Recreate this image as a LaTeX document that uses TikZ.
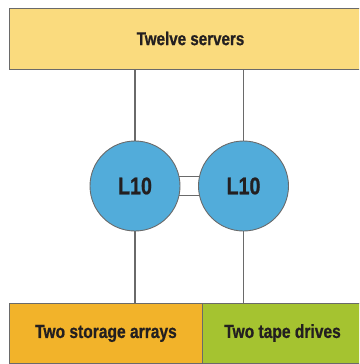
\documentclass[tikz,border=0pt]{standalone}
\usepackage{fontspec}
\setmainfont{Liberation Sans}[FakeStretch=0.82, BoldFeatures={FakeBold=0.8}]
\definecolor{srvfill}{HTML}{FADB7E}
\definecolor{stofill}{HTML}{F2B32A}
\definecolor{tapefill}{HTML}{A5C330}
\definecolor{l10fill}{HTML}{52ACDA}
\definecolor{edge}{HTML}{6A6A6A}
\definecolor{txt}{HTML}{231F20}
\tikzset{
  boxnode/.style={draw=edge, line width=0.9pt, inner sep=0pt, anchor=north west, text=txt},
  l10node/.style={circle, draw=edge, line width=0.9pt, fill=l10fill, minimum size=90pt, inner sep=0pt, text=txt, font=\fontsize{24}{24}\selectfont\bfseries},
  link/.style={draw=edge, line width=1.2pt}
}
\begin{document}
\begin{tikzpicture}[x=1pt,y=-1pt]
\useasboundingbox (0,0) rectangle (359,364);
\clip (0,0) rectangle (359,364);
\node[boxnode, fill=srvfill, minimum width=355pt, minimum height=61pt] (srv) at (9,8) {};
\node[text=txt, font=\fontsize{18.5}{20}\selectfont\bfseries] (srvlabel) at (190.5,38.5) {Twelve servers};
\node[l10node] (c1) at (135,186) {L10};
\node[l10node] (c2) at (243.5,186) {L10};
\node[boxnode, fill=stofill, minimum width=193pt, minimum height=60pt, font=\fontsize{19}{20}\selectfont\bfseries] (sto) at (9,303) {Two storage arrays};
\node[boxnode, fill=tapefill, minimum width=160pt, minimum height=60pt] (tape) at (202,303) {};
\node[text=txt, font=\fontsize{19}{20}\selectfont\bfseries] (tapelabel) at (282.5,333) {Two tape drives};
\draw[link] (c1.north |- srv.south) -- (c1.north);
\draw[link] (c2.north |- srv.south) -- (c2.north);
\draw[link] (c1.south) -- (c1.south |- sto.north);
\draw[link] (c2.south) -- (c2.south |- tape.north);
\draw[link] (c1.12) -- (c2.168);
\draw[link] (c1.-12) -- (c2.-168);
\end{tikzpicture}
\end{document}
